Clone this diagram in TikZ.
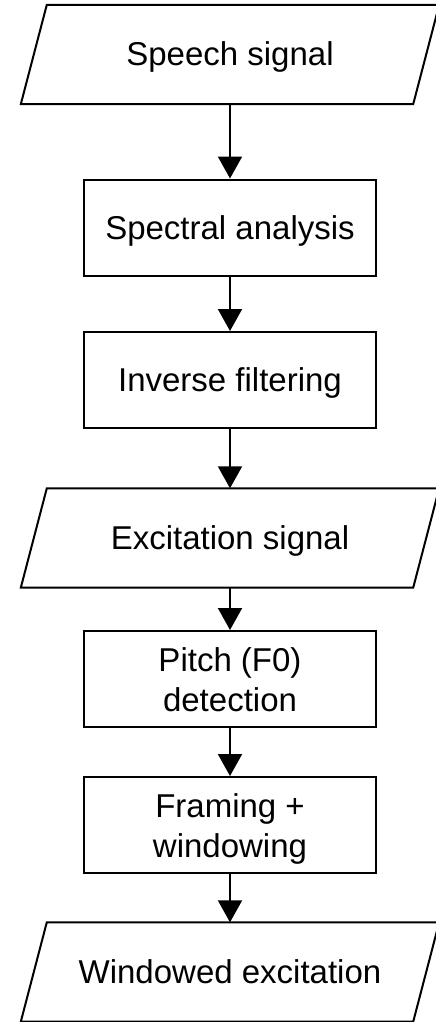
\documentclass[tikz,border=0pt]{standalone}
\usepackage{fontspec}
\setmainfont{Liberation Sans}
\usetikzlibrary{arrows.meta,calc}
% outline of a data (input/output) block around a named node
\newcommand\iooutline[1]{%
  \draw[para] (#1.south west) -- ($(#1.north west)+(26,0)$) -- (#1.north east)
    -- ($(#1.south east)-(26,0)$) -- cycle;}
% invisible struts that fix the height of a first line and the depth of a last line
\newcommand\topstrut{\rule{0pt}{32pt}}
\newcommand\botstrut{\rule[-7pt]{0pt}{7pt}}
\begin{document}
\begin{tikzpicture}[x=1pt,y=-1pt,
  every node/.style={font=\fontsize{33}{40}\selectfont, inner sep=0pt, align=center},
  oneline/.style={text height=30pt, text depth=7pt},
  stepbox/.style={draw, line width=2pt, minimum width=292pt, minimum height=96pt},
  iobox/.style={oneline, minimum width=418pt, minimum height=99pt},
  para/.style={line width=2pt, line join=miter},
  flow/.style={line width=2pt, -{Triangle[length=22pt,width=24pt]}}]
\useasboundingbox (0,0) rectangle (436,1022);
\clip (0,0) rectangle (436,1022);

\node[iobox]           (speech) at (230,54.5)  {Speech signal};
\node[stepbox,oneline] (spec)   at (230,227.5) {Spectral analysis};
\node[stepbox,oneline] (inv)    at (230,380)   {Inverse filtering};
\node[iobox]           (exc)    at (230,538)   {Excitation signal};
\node[stepbox]         (pitch)  at (230,679)   {\topstrut Pitch (F0)\\detection\botstrut};
\node[stepbox]         (frame)  at (230,825)   {\topstrut Framing +\\windowing\botstrut};
\node[iobox]           (win)    at (230,972)   {Windowed excitation};

\iooutline{speech}
\iooutline{exc}
\iooutline{win}

\draw[flow] (speech.south) -- (spec.north);
\draw[flow] (spec.south) -- (inv.north);
\draw[flow] (inv.south) -- (exc.north);
\draw[flow] (exc.south) -- (pitch.north);
\draw[flow] (pitch.south) -- (frame.north);
\draw[flow] (frame.south) -- (win.north);
\end{tikzpicture}
\end{document}
